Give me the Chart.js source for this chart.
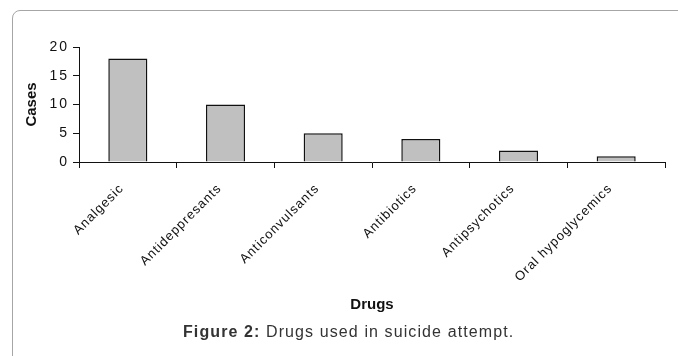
<!DOCTYPE html>
<html>
<head>
<meta charset="utf-8">
<script src="https://cdn.jsdelivr.net/npm/chart.js@4/dist/chart.umd.min.js"></script>
<style>
  html, body { margin: 0; padding: 0; background: #fff; }
  body { width: 678px; height: 356px; position: relative; overflow: hidden; }
  #panel {
    position: absolute; left: 12px; top: 10px; width: 720px; height: 420px;
    border: 1px solid #a6a6a6; border-radius: 8px; box-sizing: border-box;
  }
  #chart { position: absolute; left: 0; top: 0; }
  #caption {
    position: absolute; left: 183px; top: 322px; line-height: 20px;
    font-family: "Liberation Sans", Arial, sans-serif; font-size: 16px; color: #333;
    letter-spacing: 1.1px; white-space: nowrap;
  }
</style>
</head>
<body>
<div id="panel"></div>
<canvas id="chart" width="678" height="356"></canvas>
<div id="caption"><b>Figure 2:</b> Drugs used in suicide attempt.</div>
<script>
// Drug classes and number of cases for each
const categories = ['Analgesic', 'Antideppresants', 'Anticonvulsants', 'Antibiotics', 'Antipsychotics', 'Oral hypoglycemics'];
const cases = [18, 10, 5, 4, 2, 1];
const yTickValues = [0, 5, 10, 15, 20];
const yTitle = 'Cases';
const xTitle = 'Drugs';

const FONT = '"Liberation Sans", Arial, sans-serif';

// Draw a scale's tick labels with a little extra letter spacing
function spaceLabels(chart, id, spacing) {
  const s = chart.scales[id];
  if (!s || s._spaced) return;
  const orig = s.drawLabels.bind(s);
  s.drawLabels = function (area) {
    const ctx = chart.ctx;
    ctx.save();
    ctx.letterSpacing = spacing;
    orig(area);
    ctx.restore();
  };
  s._spaced = true;
}

const spacedLabels = {
  id: 'spacedLabels',
  afterLayout(chart) {
    spaceLabels(chart, 'x', '1px');
    spaceLabels(chart, 'y', '2px');
  }
};

new Chart(document.getElementById('chart'), {
  type: 'bar',
  data: {
    labels: categories,
    datasets: [{
      data: cases,
      backgroundColor: '#c0c0c0',
      borderColor: '#111',
      borderWidth: 1.5,
      barPercentage: 0.4,
      categoryPercentage: 1.0
    }]
  },
  options: {
    responsive: false,
    animation: false,
    devicePixelRatio: 1,
    layout: { padding: { left: 0, top: 47, right: 13, bottom: 44 } },
    plugins: { legend: { display: false }, tooltip: { enabled: false } },
    scales: {
      x: {
        afterFit(scale) { scale.height = 150; },
        grid: { display: true, drawOnChartArea: false, drawTicks: true, tickLength: 6, color: '#111', lineWidth: 1, offset: true },
        border: { display: true, color: '#111', width: 1 },
        ticks: {
          autoSkip: false, maxRotation: 45, minRotation: 45, padding: 13, labelOffset: -6,
          color: '#111', font: { family: FONT, size: 13 }
        },
        title: {
          display: true, text: xTitle, color: '#111',
          font: { family: FONT, size: 15, weight: 'bold', lineHeight: 1 },
          padding: { top: 0, bottom: 0 }
        }
      },
      y: {
        min: 0, max: 20,
        afterFit(scale) { scale.width = 79; },
        afterBuildTicks(scale) { scale.ticks = yTickValues.map(v => ({ value: v })); },
        grid: { display: true, drawOnChartArea: false, drawTicks: true, tickLength: 6, color: '#111', lineWidth: 1 },
        border: { display: true, color: '#111', width: 1 },
        ticks: { stepSize: 5, padding: 4, color: '#111', font: { family: FONT, size: 14 } },
        title: {
          display: true, text: yTitle, color: '#111',
          font: { family: FONT, size: 15, weight: 'bold', lineHeight: 1 },
          padding: { top: 24, bottom: 0 }
        }
      }
    }
  },
  plugins: [spacedLabels]
});
</script>
</body>
</html>
